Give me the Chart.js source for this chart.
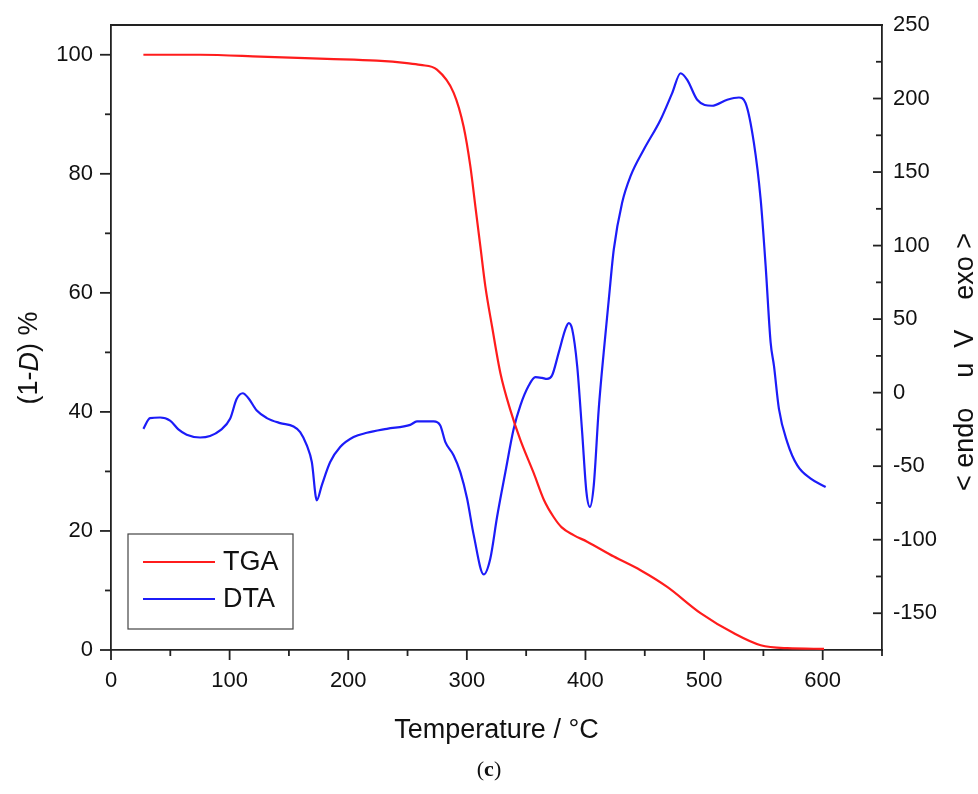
<!DOCTYPE html>
<html>
<head>
<meta charset="utf-8">
<title>TGA / DTA</title>
<script src="https://cdn.jsdelivr.net/npm/chart.js@4/dist/chart.umd.min.js"></script>
<style>
  html, body { margin: 0; padding: 0; background: #fff; }
  #grafica { display: block; }
</style>
</head>
<body>
<canvas id="grafica" width="978" height="794"></canvas>
<script>
// TGA: mass remaining (left axis)
const tgaTemp = [27.3, 75.1, 125.7, 182, 224.1, 249.4, 260.8, 274.8, 288.9, 297.3, 303, 307.2, 311.4, 315.6,
  321.3, 328.3, 336.7, 345.1, 356.4, 365, 373.3, 380, 390, 401.4, 423.9, 446.4, 468.9, 497, 525.2, 547.7, 570.2, 601.1];
const tgaMass = [100, 100, 99.7, 99.3, 99.0, 98.6, 98.3, 97.5, 93.6, 87.9, 81.2, 74.5, 67.8, 61.1,
  54.3, 46.5, 40.3, 35.3, 29.7, 25.2, 22.3, 20.6, 19.3, 18.2, 15.7, 13.4, 10.6, 6.2, 2.8, 0.8, 0.3, 0.2];

// DTA signal (right axis)
const dtaTemp = [27.3, 32.9, 41.4, 49.8, 56.8, 63.8, 75.1, 83.5, 92, 100.4, 106, 111.1, 115.9, 122.9, 131.4,
  142.6, 153.9, 159.5, 165.1, 169.3, 173.5, 177.7, 184.8, 193.2, 204.5, 215.7, 232.6, 252.3, 257.9, 272,
  277.6, 281.9, 288.9, 294.5, 300.2, 305.8, 314.2, 319.8, 325.5, 332.5, 339.5, 345.1, 352.2, 357.8, 363.4,
  367.6, 371.8, 377.5, 383.1, 385.9, 388.8, 393, 397.2, 400.8, 403.7, 407, 411.2, 415.8, 419.7, 423.9,
  430.9, 438, 449.2, 463.3, 473.1, 480.2, 485.8, 494.2, 506.8, 519.5, 529.4, 535, 542, 547.7, 551.9,
  556.1, 558.9, 563.1, 570.1, 578.6, 589.9, 602.5];
const dtaSignal = [-24.6, -17.3, -16.9, -19, -25, -28.6, -30.5, -29.5, -25.7, -17.8, -4.2, -0.4, -3.8, -12.2, -17.3,
  -20.7, -23, -26.8, -35.9, -47.2, -73.2, -63, -47.2, -37, -30.2, -27.3, -24.6, -21.9, -19.6, -19.6,
  -22.3, -33.6, -42.7, -54, -72, -96.9, -123.6, -112.7, -84.4, -54, -24.6, -8.8, 4.8, 10.5, 10,
  9.3, 11.6, 27.4, 43.2, 47.3, 43.2, 18.3, -26.8, -67.5, -77.7, -63, -11, 31, 63.6, 97.5,
  129.1, 147.2, 165.3, 185.6, 203.7, 217.2, 212.7, 199.2, 195.1, 199.2, 200.7, 196.9, 169.8, 131.4, 86.2,
  34.2, 18.3, -11, -33.6, -49.5, -58.5, -64.1];

// axis ticks
const xTicks = [0, 100, 200, 300, 400, 500, 600];
const xMinor = [50, 150, 250, 350, 450, 550, 650];
const leftTicks = [0, 20, 40, 60, 80, 100];
const leftMinor = [10, 30, 50, 70, 90];
const rightTicks = [-150, -100, -50, 0, 50, 100, 150, 200, 250];
const rightMinor = [-125, -75, -25, 25, 75, 125, 175, 225];

const serieLabels = ['TGA', 'DTA'];
const serieColors = ['rgb(255,28,28)', 'rgb(28,28,248)'];

const SANS = '"Liberation Sans", Arial, sans-serif';
const INK = '#222';

function fijarTicks(lista) {
  return scale => { scale.ticks = lista.map(v => ({ value: v })); };
}

// fixed axis sizes, no extra room for overhanging labels
function fijarTamano(ancho, alto) {
  return s => {
    if (ancho !== null) s.width = ancho;
    if (alto !== null) s.height = alto;
    s.paddingTop = 0; s.paddingBottom = 0; s.paddingLeft = 0; s.paddingRight = 0;
  };
}

// ticks, frame, legend and titles
const decoracion = {
  id: 'decoracion',
  afterDraw(chart) {
    const ctx = chart.ctx;
    const area = chart.chartArea;
    const { x, y, y2 } = chart.scales;
    ctx.save();
    ctx.strokeStyle = INK;
    ctx.lineWidth = 1.8;

    // top edge of the frame
    ctx.beginPath();
    ctx.moveTo(area.left, area.top);
    ctx.lineTo(area.right + 1, area.top);
    ctx.stroke();

    const marca = (x1, y1, x2, y2b) => {
      ctx.beginPath(); ctx.moveTo(x1, y1); ctx.lineTo(x2, y2b); ctx.stroke();
    };
    xTicks.forEach(v => { const px = x.getPixelForValue(v); marca(px, area.bottom, px, area.bottom + 10); });
    xMinor.forEach(v => { const px = x.getPixelForValue(v); marca(px, area.bottom, px, area.bottom + 6); });
    leftTicks.forEach(v => { const py = y.getPixelForValue(v); marca(area.left, py, area.left - 11, py); });
    leftMinor.forEach(v => { const py = y.getPixelForValue(v); marca(area.left, py, area.left - 6, py); });
    // right axis ticks point inwards
    rightTicks.forEach(v => { const py = y2.getPixelForValue(v); marca(area.right, py, area.right - 9, py); });
    rightMinor.forEach(v => { const py = y2.getPixelForValue(v); marca(area.right, py, area.right - 6, py); });

    // legend box
    const lx = 128, ly = 534, lw = 165, lh = 95;
    ctx.lineWidth = 1.2;
    ctx.strokeStyle = '#444';
    ctx.strokeRect(lx, ly, lw, lh);
    ctx.font = '27px ' + SANS;
    ctx.textAlign = 'left';
    ctx.textBaseline = 'middle';
    chart.data.datasets.forEach((ds, i) => {
      const ry = ly + 28 + i * 37;
      ctx.strokeStyle = ds.borderColor;
      ctx.lineWidth = 2;
      marca(lx + 15, ry, lx + 87, ry);
      ctx.fillStyle = '#111';
      ctx.fillText(ds.label, lx + 95, ry + 1);
    });

    // x title
    ctx.fillStyle = '#111';
    ctx.textAlign = 'center';
    ctx.fillText('Temperature / °C', (area.left + area.right) / 2, 731);

    // left title: (1-D) % with italic D
    const partes = [['(1-', '27px ' + SANS], ['D', 'italic 27px ' + SANS], [') %', '27px ' + SANS]];
    let total = 0;
    partes.forEach(p => { ctx.font = p[1]; total += ctx.measureText(p[0]).width; });
    ctx.save();
    ctx.translate(30, 358);
    ctx.rotate(-Math.PI / 2);
    ctx.textAlign = 'left';
    let pos = -total / 2;
    partes.forEach(p => { ctx.font = p[1]; ctx.fillText(p[0], pos, 0); pos += ctx.measureText(p[0]).width; });
    ctx.restore();

    // right title
    ctx.save();
    ctx.translate(966, 362);
    ctx.rotate(-Math.PI / 2);
    ctx.font = '27px ' + SANS;
    ctx.textAlign = 'center';
    ctx.fillText('< endo    u  V    exo >', 0, 0);
    ctx.restore();

    // panel label (c)
    ctx.textBaseline = 'middle';
    const piezas = [['(', '22px "Liberation Serif", serif'], ['c', 'bold 22px "Liberation Serif", serif'], [')', '22px "Liberation Serif", serif']];
    let ancho = 0;
    piezas.forEach(p => { ctx.font = p[1]; ancho += ctx.measureText(p[0]).width; });
    let cx = 489 - ancho / 2;
    ctx.textAlign = 'left';
    piezas.forEach(p => { ctx.font = p[1]; ctx.fillText(p[0], cx, 770); cx += ctx.measureText(p[0]).width; });

    ctx.restore();
  }
};

const ejeBase = {
  type: 'linear',
  grid: { display: false, drawTicks: false, tickLength: 0 },
  border: { display: true, color: INK, width: 1.8 },
  ticks: { color: '#111', font: { family: SANS, size: 22 } }
};

new Chart(document.getElementById('grafica').getContext('2d'), {
  type: 'line',
  data: {
    datasets: [
      {
        label: serieLabels[0],
        data: tgaTemp.map((t, i) => ({ x: t, y: tgaMass[i] })),
        borderColor: serieColors[0],
        borderWidth: 2.2,
        pointRadius: 0,
        cubicInterpolationMode: 'monotone',
        yAxisID: 'y'
      },
      {
        label: serieLabels[1],
        data: dtaTemp.map((t, i) => ({ x: t, y: dtaSignal[i] })),
        borderColor: serieColors[1],
        borderWidth: 2.2,
        pointRadius: 0,
        cubicInterpolationMode: 'monotone',
        yAxisID: 'y2'
      }
    ]
  },
  options: {
    responsive: false,
    animation: false,
    devicePixelRatio: 1,
    layout: { padding: { top: 25, left: 0, right: 0, bottom: 0 } },
    plugins: { legend: { display: false }, tooltip: { enabled: false } },
    scales: {
      x: {
        ...ejeBase,
        position: 'bottom',
        min: 0, max: 650,
        afterBuildTicks: fijarTicks(xTicks),
        afterFit: fijarTamano(null, 144),
        ticks: { ...ejeBase.ticks, padding: 18, maxRotation: 0 }
      },
      y: {
        ...ejeBase,
        position: 'left',
        min: 0, max: 105,
        afterBuildTicks: fijarTicks(leftTicks),
        afterFit: fijarTamano(111, null),
        ticks: { ...ejeBase.ticks, padding: 18 }
      },
      y2: {
        ...ejeBase,
        position: 'right',
        min: -175, max: 250,
        afterBuildTicks: fijarTicks(rightTicks),
        afterFit: fijarTamano(96, null),
        ticks: { ...ejeBase.ticks, padding: 11 }
      }
    }
  },
  plugins: [decoracion]
});
</script>
</body>
</html>
